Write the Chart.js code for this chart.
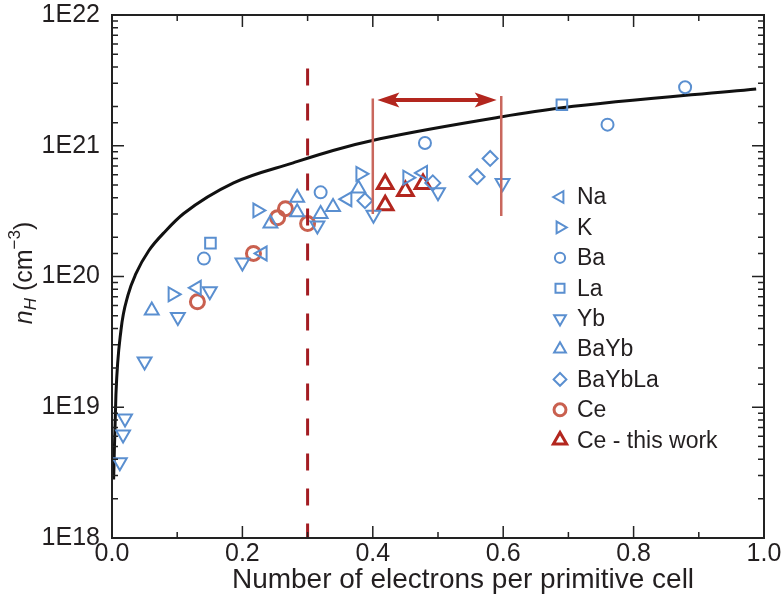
<!DOCTYPE html>
<html>
<head>
<meta charset="utf-8">
<script src="https://cdn.jsdelivr.net/npm/chart.js@4.4.1/dist/chart.umd.min.js"></script>
<style>
html, body { margin: 0; padding: 0; background: #fff; }
#wrap { width: 781px; height: 602px; }
</style>
</head>
<body>
<div id="wrap"><canvas id="nhChart" width="781" height="602"></canvas></div>
<script>
// valeurs
var naX = [0.130, 0.231, 0.361, 0.477];
var naY = [8.2e19, 1.5e20, 3.9e20, 6.2e20];
var kX = [0.093, 0.223, 0.381, 0.453];
var kY = [7.3e19, 3.2e20, 6.1e20, 5.7e20];
var baX = [0.141, 0.320, 0.480, 0.760, 0.879];
var baY = [1.37e20, 4.4e20, 1.05e21, 1.45e21, 2.8e21];
var laX = [0.151, 0.690];
var laY = [1.8e20, 2.06e21];
var ybX = [0.012, 0.017, 0.020, 0.050, 0.101, 0.150, 0.200, 0.315, 0.401, 0.500, 0.599];
var ybY = [3.8e18, 6.2e18, 8.2e18, 2.24e19, 4.9e19, 7.7e19, 1.28e20, 2.45e20, 2.97e20, 4.4e20, 5.2e20];
var baybX = [0.061, 0.243, 0.284, 0.284, 0.320, 0.339, 0.378];
var baybY = [5.5e19, 2.54e20, 4.0e20, 3.1e20, 3.0e20, 3.4e20, 4.7e20];
var bayblaX = [0.388, 0.492, 0.560, 0.580];
var bayblaY = [3.8e20, 5.2e20, 5.8e20, 8.0e20];
var ceX = [0.131, 0.217, 0.254, 0.266, 0.300];
var ceY = [6.4e19, 1.5e20, 2.82e20, 3.3e20, 2.54e20];
var ceWorkX = [0.419, 0.419, 0.450, 0.477];
var ceWorkY = [5.1e20, 3.5e20, 4.5e20, 5.1e20];

// courbe noire
var curveX = [0.0025, 0.006, 0.0138, 0.0245, 0.0367, 0.0566, 0.0826, 0.110, 0.1865, 0.278, 0.339, 0.411, 0.596, 0.690, 0.988];
var curveY = [2.8e18, 1.24e19, 3.9e19, 7.2e19, 1.05e20, 1.58e20, 2.24e20, 3.03e20, 5.2e20, 7.4e20, 9.2e20, 1.13e21, 1.66e21, 1.95e21, 2.72e21];

// lignes verticales et fleche
var dashX = [0.3, 0.3];
var dashY = [3.9e21, 1e18];
var rangeLeftX = [0.4, 0.4];
var rangeLeftY = [2.3e21, 3.0e20];
var rangeRightX = [0.597, 0.597];
var rangeRightY = [2.4e21, 2.9e20];
var arrowX = [0.407, 0.590];
var arrowY = [2.24e21, 2.24e21];

var xTickLabels = ['0.0', '0.2', '0.4', '0.6', '0.8', '1.0'];
var yTickLabels = ['1E18', '1E19', '1E20', '1E21', '1E22'];

var blue = '#5a8fd0';
var ceColor = '#c9604f';
var ceWorkColor = '#b3261e';
var textColor = '#231f20';
var fontFam = '"Liberation Sans", Arial, Helvetica, sans-serif';

function pts(xs, ys) {
	var out = [];
	for (var i = 0; i < xs.length; i++) out.push({x: xs[i], y: ys[i]});
	return out;
}

function series(label, xs, ys, style, rot, r, color, bw) {
	return {
		label: label,
		data: pts(xs, ys),
		pointStyle: style,
		rotation: rot,
		pointRadius: r,
		pointHoverRadius: r,
		borderColor: color,
		backgroundColor: 'rgba(0,0,0,0)',
		pointBorderWidth: bw,
		borderWidth: bw,
		showLine: false,
		isLegend: true
	};
}

function lineSet(xs, ys, color, width, dash) {
	return {
		data: pts(xs, ys),
		showLine: true,
		borderColor: color,
		borderWidth: width,
		borderDash: dash || [],
		pointRadius: 0,
		pointHoverRadius: 0,
		fill: false
	};
}

var datasets = [
	lineSet(dashX, dashY, '#a31c22', 3, [17, 18]),
	lineSet(rangeLeftX, rangeLeftY, '#c9675d', 2.5),
	lineSet(rangeRightX, rangeRightY, '#c9675d', 2.5),
	series('Na', naX, naY, 'triangle', -90, 8, blue, 2),
	series('K', kX, kY, 'triangle', 90, 8, blue, 2),
	series('Ba', baX, baY, 'circle', 0, 6, blue, 2),
	series('La', laX, laY, 'rect', 0, 7.5, blue, 2),
	series('Yb', ybX, ybY, 'triangle', 180, 8, blue, 2),
	series('BaYb', baybX, baybY, 'triangle', 0, 8, blue, 2),
	series('BaYbLa', bayblaX, bayblaY, 'rectRot', 0, 7.5, blue, 2),
	series('Ce', ceX, ceY, 'circle', 0, 7, ceColor, 3),
	series('Ce - this work', ceWorkX, ceWorkY, 'triangle', 0, 9, ceWorkColor, 3)
];
var curveSet = lineSet(curveX, curveY, '#111', 3);
curveSet.cubicInterpolationMode = 'monotone';
datasets.push(curveSet);

function drawMarker(ctx, style, x, y, r, rot) {
	ctx.beginPath();
	if (style === 'circle') {
		ctx.arc(x, y, r, 0, Math.PI * 2);
	} else if (style === 'rect') {
		var s = r * Math.SQRT1_2;
		ctx.rect(x - s, y - s, 2 * s, 2 * s);
	} else if (style === 'rectRot') {
		ctx.moveTo(x - r, y); ctx.lineTo(x, y - r); ctx.lineTo(x + r, y); ctx.lineTo(x, y + r); ctx.closePath();
	} else {
		var a = (rot || 0) * Math.PI / 180;
		for (var i = 0; i < 3; i++) {
			var t = a + i * 2 * Math.PI / 3;
			var px = x + Math.sin(t) * r, py = y - Math.cos(t) * r;
			if (i) ctx.lineTo(px, py); else ctx.moveTo(px, py);
		}
		ctx.closePath();
	}
	ctx.stroke();
}

// cadre, graduations internes, fleche, titres, legende
var decor = {
	id: 'decor',
	afterDatasetsDraw: function(chart) {
		var ctx = chart.ctx, a = chart.chartArea;
		var xs = chart.scales.x, ys = chart.scales.y;
		ctx.save();
		ctx.strokeStyle = '#222';
		ctx.lineWidth = 2;
		ctx.strokeRect(a.left, a.top, a.right - a.left, a.bottom - a.top);

		ctx.lineWidth = 1.5;
		ctx.beginPath();
		ys.ticks.forEach(function(t) {
			var p = ys.getPixelForValue(t.value);
			var e = Math.log10(t.value);
			var len = Math.abs(e - Math.round(e)) < 1e-6 ? 12 : 6;
			ctx.moveTo(a.left, p); ctx.lineTo(a.left + len, p);
			ctx.moveTo(a.right, p); ctx.lineTo(a.right - len, p);
		});
		xs.ticks.forEach(function(t) {
			var p = xs.getPixelForValue(t.value);
			var len = Math.round(t.value * 10) % 2 === 0 ? 12 : 6;
			ctx.moveTo(p, a.bottom); ctx.lineTo(p, a.bottom - len);
			ctx.moveTo(p, a.top); ctx.lineTo(p, a.top + len);
		});
		ctx.stroke();

		// fleche double
		var x1 = xs.getPixelForValue(arrowX[0]), x2 = xs.getPixelForValue(arrowX[1]);
		var yA = ys.getPixelForValue(arrowY[0]);
		ctx.strokeStyle = ceWorkColor;
		ctx.fillStyle = ceWorkColor;
		ctx.lineWidth = 4;
		ctx.beginPath();
		ctx.moveTo(x1 + 14, yA); ctx.lineTo(x2 - 14, yA);
		ctx.stroke();
		ctx.beginPath();
		ctx.moveTo(x1, yA); ctx.lineTo(x1 + 22, yA - 7.5); ctx.lineTo(x1 + 17, yA); ctx.lineTo(x1 + 22, yA + 7.5); ctx.closePath();
		ctx.moveTo(x2, yA); ctx.lineTo(x2 - 22, yA - 7.5); ctx.lineTo(x2 - 17, yA); ctx.lineTo(x2 - 22, yA + 7.5); ctx.closePath();
		ctx.fill();

		// legende
		var lx = 560, ly = 197, step = 30.4;
		ctx.font = '23px ' + fontFam;
		ctx.textBaseline = 'middle';
		ctx.textAlign = 'left';
		var row = 0;
		chart.data.datasets.forEach(function(d) {
			if (!d.isLegend) return;
			var y = ly + row * step;
			ctx.strokeStyle = d.borderColor;
			ctx.lineWidth = d.pointBorderWidth;
			var r = d.pointRadius * 0.85;
			drawMarker(ctx, d.pointStyle, lx, y, r, d.rotation);
			ctx.fillStyle = textColor;
			ctx.fillText(d.label, lx + 17, y + 1);
			row++;
		});

		// titre axe x
		ctx.fillStyle = textColor;
		ctx.font = '28px ' + fontFam;
		ctx.textAlign = 'center';
		ctx.fillText('Number of electrons per primitive cell', 463, 580);

		// titre axe y : n_H (cm^-3)
		ctx.translate(25, 273);
		ctx.rotate(-Math.PI / 2);
		var big = '25px ' + fontFam, small = '17px ' + fontFam;
		var parts = [
			{t: 'n', f: 'italic ' + big, dy: 0},
			{t: 'H', f: 'italic ' + small, dy: 6},
			{t: ' (cm', f: big, dy: 0},
			{t: '\u22123', f: small, dy: -10},
			{t: ')', f: big, dy: 0}
		];
		var total = 0;
		parts.forEach(function(p) { ctx.font = p.f; p.w = ctx.measureText(p.t).width; total += p.w; });
		var cx = -total / 2;
		ctx.textAlign = 'left';
		parts.forEach(function(p) { ctx.font = p.f; ctx.fillText(p.t, cx, p.dy); cx += p.w; });
		ctx.restore();
	}
};

var ctx = document.getElementById('nhChart').getContext('2d');
var config = {
	type: 'scatter',
	data: { datasets: datasets },
	options: {
		responsive: false,
		animation: false,
		events: [],
		layout: { padding: { top: 15, right: 17, left: 0, bottom: 0 } },
		plugins: {
			legend: { display: false },
			tooltip: { enabled: false }
		},
		scales: {
			x: {
				type: 'linear',
				min: 0,
				max: 1,
				afterFit: function(s) { s.height = 64; s.paddingLeft = 0; s.paddingRight = 0; },
				grid: { display: false, drawTicks: false },
				border: { display: false },
				ticks: {
					stepSize: 0.1,
					autoSkip: false,
					maxRotation: 0,
					padding: 1,
					color: textColor,
					font: { size: 25, family: fontFam },
					callback: function(v) {
						var k = Math.round(v * 10);
						return k % 2 === 0 ? xTickLabels[k / 2] : '';
					}
				}
			},
			y: {
				type: 'logarithmic',
				min: 1e18,
				max: 1e22,
				afterFit: function(s) { s.width = 112; s.paddingTop = 0; s.paddingBottom = 0; },
				grid: { display: false, drawTicks: false },
				border: { display: false },
				ticks: {
					autoSkip: false,
					padding: 12,
					color: textColor,
					font: { size: 25, family: fontFam },
					callback: function(v) {
						var e = Math.log10(v), n = Math.round(e);
						return Math.abs(e - n) < 1e-6 ? yTickLabels[n - 18] : '';
					}
				}
			}
		}
	},
	plugins: [decor]
};
var nhChart = new Chart(ctx, config);
</script>
</body>
</html>
